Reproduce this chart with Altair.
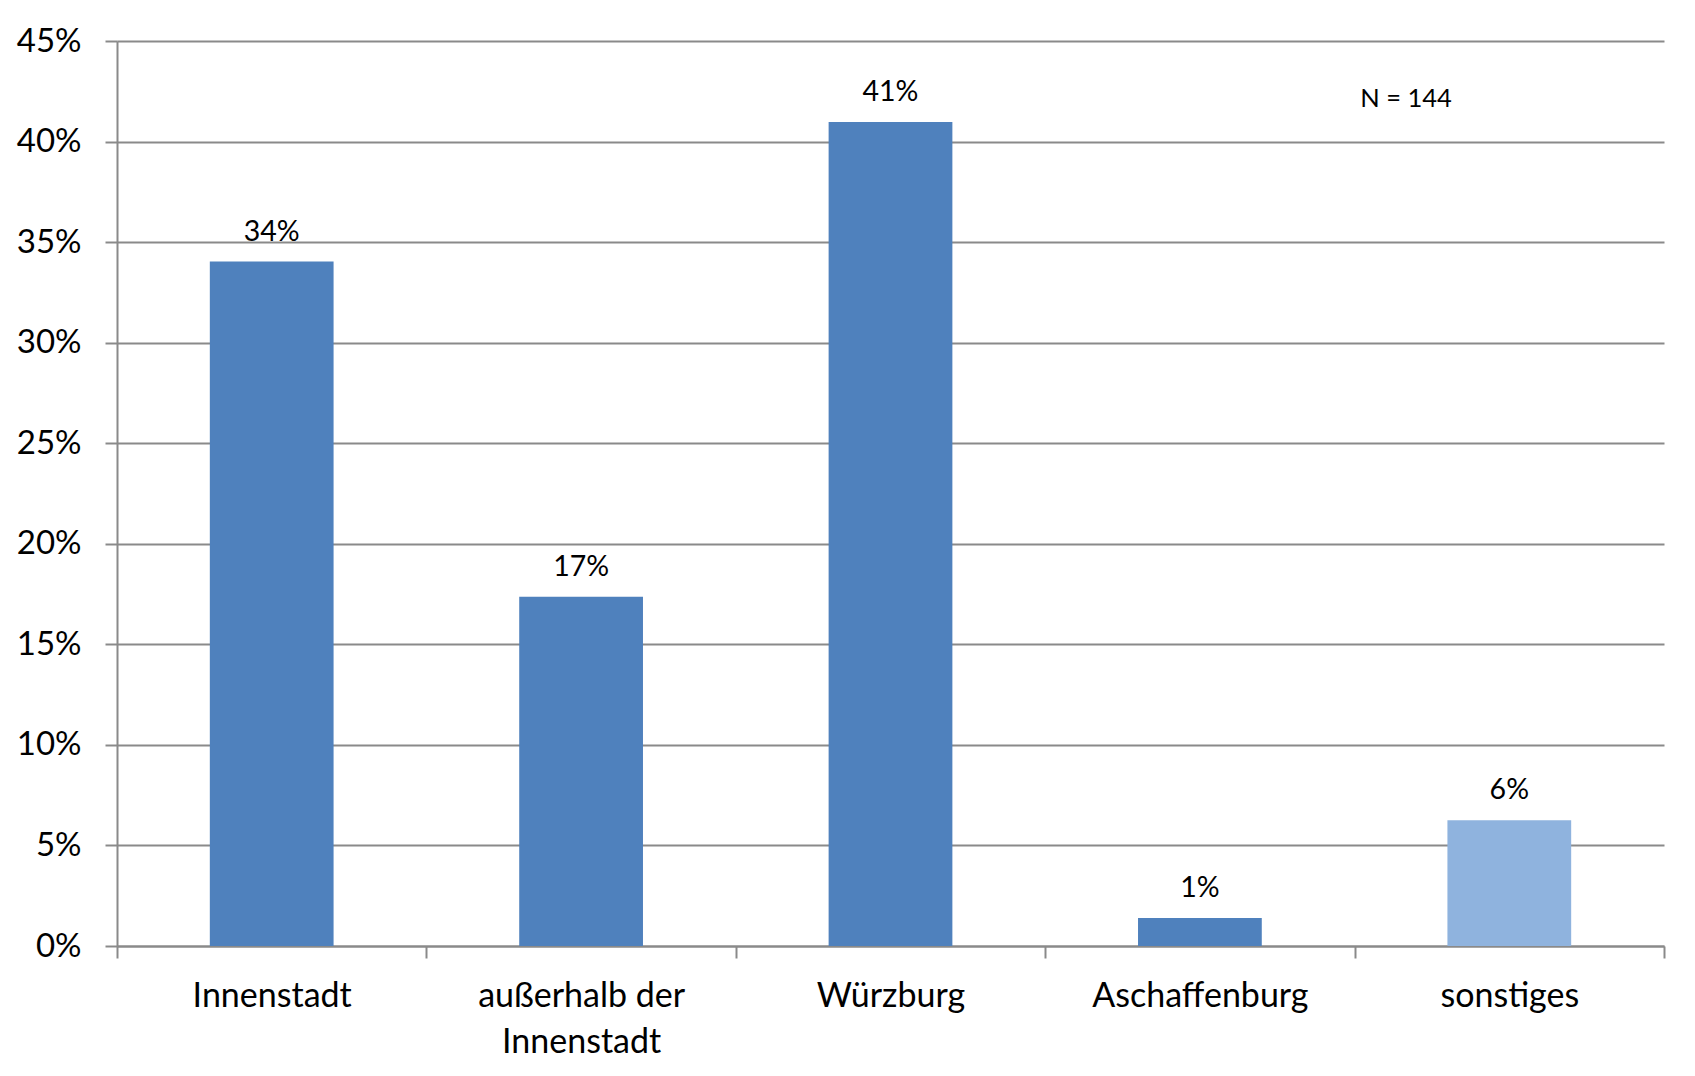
import altair as alt
import pandas as pd

# ---- data ----
categories = ["Innenstadt", "außerhalb der Innenstadt", "Würzburg", "Aschaffenburg", "sonstiges"]
shares = [0.3403, 0.1736, 0.4097, 0.0139, 0.0625]
y_ticks = [0.0, 0.05, 0.10, 0.15, 0.20, 0.25, 0.30, 0.35, 0.40, 0.45]
note_text = ["N = 144"]
note_level = [0.421]

# ---- styles ----
FONT = "Lato"
GRID = "#8a8a8a"
bar_colors = ["#4F81BD", "#4F81BD", "#4F81BD", "#4F81BD", "#8FB3DE"]

df = pd.DataFrame({"Kategorie": categories, "Anteil": shares})
note_df = pd.DataFrame({"t": note_text, "y": note_level})

x_enc = alt.X(
    "Kategorie:N",
    sort=categories,
    scale=alt.Scale(paddingInner=0, paddingOuter=0),
    axis=alt.Axis(
        title=None,
        labelAngle=0,
        tickBand="extent",
        tickSize=12,
        tickColor=GRID,
        tickWidth=2,
        domainColor=GRID,
        domainWidth=2,
        labelFont=FONT,
        labelFontSize=34,
        labelColor="black",
        labelPadding=21,
        labelLineHeight=46,
        labelLimit=0,
        labelExpr="datum.label == 'außerhalb der Innenstadt' ? ['außerhalb der', 'Innenstadt'] : datum.label",
    ),
)

y_enc = alt.Y(
    "Anteil:Q",
    scale=alt.Scale(domain=[0, 0.45], nice=False, zero=True),
    axis=alt.Axis(
        title=None,
        values=y_ticks,
        format=".0%",
        grid=True,
        gridColor=GRID,
        gridWidth=2,
        tickSize=12,
        tickColor=GRID,
        tickWidth=2,
        domainColor=GRID,
        domainWidth=2,
        labelFont=FONT,
        labelFontSize=33,
        labelColor="black",
        labelPadding=24,
    ),
)

bars = alt.Chart(df).mark_bar(width=alt.RelativeBandSize(0.4)).encode(
    x=x_enc,
    y=y_enc,
    color=alt.Color(
        "Kategorie:N",
        scale=alt.Scale(domain=categories, range=bar_colors),
        legend=None,
    ),
)

labels = alt.Chart(df).mark_text(
    baseline="alphabetic", dy=-21, font=FONT, fontSize=28.5, color="black"
).encode(
    x=alt.X("Kategorie:N", sort=categories),
    y=alt.Y("Anteil:Q"),
    text=alt.Text("Anteil:Q", format=".0%"),
)

note = alt.Chart(note_df).mark_text(
    baseline="middle", align="center", font=FONT, fontSize=25.5, color="black"
).encode(
    x=alt.value(1289),
    y=alt.Y("y:Q"),
    text="t:N",
)

chart = (
    alt.layer(bars, labels, note)
    .properties(
        width=1547,
        height=905,
        autosize=alt.AutoSizeParams(type="none"),
        padding={"left": 109, "top": 33, "right": 23, "bottom": 122},
        background="white",
    )
    .configure_view(stroke=None)
)

chart.save("out.html", embed_options={"renderer": "svg", "actions": False})
